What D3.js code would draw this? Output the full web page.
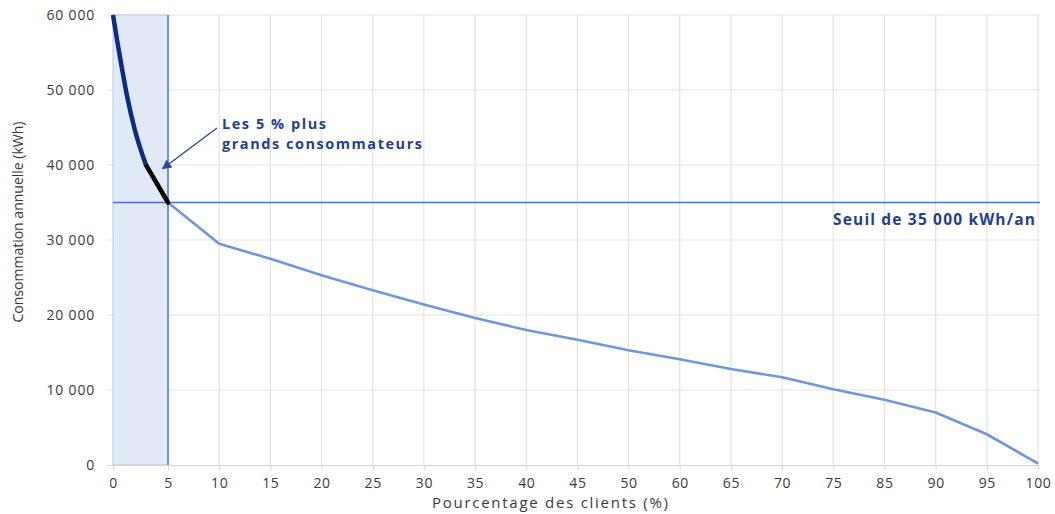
<!DOCTYPE html>
<html>
<head>
<meta charset="utf-8">
<script src="https://cdn.jsdelivr.net/npm/d3@7"></script>
<style>
  body { margin: 0; background: #fff; }
  text { font-family: "Open Sans", sans-serif; }
</style>
</head>
<body>
<svg id="chart" width="1055" height="514"></svg>
<script>
// x categories (55 and 80 are absent on the original axis)
const categories = [0, 5, 10, 15, 20, 25, 30, 35, 40, 45, 50, 60, 65, 70, 75, 85, 90, 95, 100];
const yTicks = [0, 10000, 20000, 30000, 40000, 50000, 60000];

// top 5 % split in two parts
const topPct = [0, 0.4, 0.8, 1.25, 2, 3];
const topKwh = [60000, 56400, 53000, 49400, 44600, 40000];
const blackPct = [3, 4, 5];
const blackKwh = [40000, 37500, 35000];

// rest of the curve
const restPct = [5, 10, 15, 20, 25, 30, 35, 40, 45, 50, 60, 65, 70, 75, 85, 90, 95, 100];
const restKwh = [35000, 29500, 27500, 25300, 23300, 21400, 19600, 18000, 16700, 15300, 14100, 12800, 11700, 10100, 8700, 7000, 4100, 200];

const threshold = 35000;
const shadeTo = 5;

const width = 1055;
const height = 514;
const margin = ({ top: 15, right: 17, bottom: 49, left: 113 });
const firstGap = 55;
const svg = d3.select('#chart');

// category axis: categories evenly spaced (first gap a bit wider), linear in between
const step = (width - margin.right - margin.left - firstGap) / (categories.length - 2);
const x = d3.scaleLinear()
  .domain(categories)
  .range(categories.map((d, i) => i === 0 ? margin.left : margin.left + firstGap + (i - 1) * step));

const y = d3.scaleLinear()
  .domain([0, 60000])
  .range([height - margin.bottom, margin.top]);

const fmt = v => d3.format(',')(v).replace(/,/g, ' ');

// grid
svg.append('g')
  .attr('stroke', '#e3e3e3')
  .attr('stroke-width', 1.2)
  .selectAll('line.h')
  .data(yTicks.slice(1))
  .join('line')
  .attr('x1', margin.left - 6)
  .attr('x2', x(100) + 2)
  .attr('y1', d => y(d))
  .attr('y2', d => y(d));

svg.append('g')
  .attr('stroke', '#e3e3e3')
  .attr('stroke-width', 1.2)
  .selectAll('line')
  .data(categories.slice(1))
  .join('line')
  .attr('x1', d => x(d))
  .attr('x2', d => x(d))
  .attr('y1', y(60000))
  .attr('y2', y(0));

// shaded top 5 %
svg.append('rect')
  .attr('x', x(0))
  .attr('y', y(60000))
  .attr('width', x(shadeTo) - x(0))
  .attr('height', y(0) - y(60000))
  .attr('fill', '#e1e9f7')
  .attr('stroke', '#b4c7ec')
  .attr('stroke-width', 1);

// x axis
const xAxis = g => g
  .attr('transform', `translate(0,${y(0)})`)
  .call(d3.axisBottom(x).tickValues(categories).tickFormat(d => d).tickSize(5).tickPadding(8))
  .call(g => g.select('.domain').attr('d', `M${margin.left - 6},0.5H${x(100) + 2}`).attr('stroke', '#d6d6d6'))
  .call(g => g.selectAll('.tick line').attr('stroke', '#d6d6d6'))
  .call(g => g.selectAll('.tick text')
    .attr('fill', '#3a3a3a')
    .attr('font-size', 14)
    .attr('font-family', '"Open Sans", sans-serif')
    .style('letter-spacing', '0.6px'));

const yAxis = g => g
  .attr('transform', `translate(${margin.left - 6},0)`)
  .call(d3.axisLeft(y).tickValues(yTicks).tickFormat(fmt).tickSize(0).tickPadding(12))
  .call(g => g.select('.domain').remove())
  .call(g => g.selectAll('.tick text')
    .attr('fill', '#3a3a3a')
    .attr('font-size', 14)
    .attr('font-family', '"Open Sans", sans-serif')
    .style('letter-spacing', '0.8px'));

svg.append('g').call(xAxis);
svg.append('g').call(yAxis);

// threshold and 5 % lines
svg.append('line')
  .attr('x1', x(0))
  .attr('x2', x(100) + 2)
  .attr('y1', y(threshold))
  .attr('y2', y(threshold))
  .attr('stroke', '#4b72c5')
  .attr('stroke-width', 1.6);

svg.append('line')
  .attr('x1', x(shadeTo))
  .attr('x2', x(shadeTo))
  .attr('y1', y(60000))
  .attr('y2', y(0))
  .attr('stroke', '#5b83d0')
  .attr('stroke-width', 1.6);

// curves
const line = d3.line()
  .x(d => x(d[0]))
  .y(d => y(d[1]));

svg.append('path')
  .datum(d3.zip(restPct, restKwh))
  .attr('fill', 'none')
  .attr('stroke', '#7097de')
  .attr('stroke-width', 2.6)
  .attr('stroke-linejoin', 'round')
  .attr('d', line);

svg.append('path')
  .datum(d3.zip(blackPct, blackKwh))
  .attr('fill', 'none')
  .attr('stroke', '#000')
  .attr('stroke-width', 4.5)
  .attr('stroke-linecap', 'round')
  .attr('d', line);

svg.append('path')
  .datum(d3.zip(topPct, topKwh))
  .attr('fill', 'none')
  .attr('stroke', '#0a2c82')
  .attr('stroke-width', 4.5)
  .attr('d', line.curve(d3.curveMonotoneX));

// annotation
svg.append('defs').append('marker')
  .attr('id', 'arrow')
  .attr('viewBox', '0 0 10 10')
  .attr('refX', 9)
  .attr('refY', 5)
  .attr('markerWidth', 7)
  .attr('markerHeight', 7)
  .attr('orient', 'auto')
  .append('path')
  .attr('d', 'M0,0L10,5L0,10z')
  .attr('fill', '#2a4a9c');

svg.append('line')
  .attr('x1', 217)
  .attr('y1', 128)
  .attr('x2', x(4.5))
  .attr('y2', y(39500))
  .attr('stroke', '#2a4a9c')
  .attr('stroke-width', 1.4)
  .attr('marker-end', 'url(#arrow)');

svg.append('text')
  .attr('x', 222)
  .attr('y', 129)
  .attr('fill', '#1f3f8f')
  .attr('font-weight', 'bold')
  .attr('font-size', 14.5)
  .attr('textLength', 104)
  .text('Les 5 % plus');

svg.append('text')
  .attr('x', 222)
  .attr('y', 149)
  .attr('fill', '#1f3f8f')
  .attr('font-weight', 'bold')
  .attr('font-size', 14.5)
  .attr('textLength', 200)
  .text('grands consommateurs');

svg.append('text')
  .attr('x', x(100) - 3)
  .attr('y', 225)
  .attr('text-anchor', 'end')
  .attr('fill', '#1f3f8f')
  .attr('font-weight', 'bold')
  .attr('font-size', 15.5)
  .attr('textLength', 202)
  .text('Seuil de 35 000 kWh/an');

// axis titles
svg.append('text')
  .attr('x', 550)
  .attr('y', 508)
  .attr('text-anchor', 'middle')
  .attr('fill', '#3a3a3a')
  .attr('font-size', 15)
  .attr('textLength', 236)
  .text('Pourcentage des clients (%)');

svg.append('text')
  .attr('transform', 'translate(23,222) rotate(-90)')
  .attr('text-anchor', 'middle')
  .attr('fill', '#3a3a3a')
  .attr('font-size', 14)
  .attr('textLength', 201)
  .attr('lengthAdjust', 'spacingAndGlyphs')
  .text('Consommation annuelle (kWh)');
</script>
</body>
</html>
